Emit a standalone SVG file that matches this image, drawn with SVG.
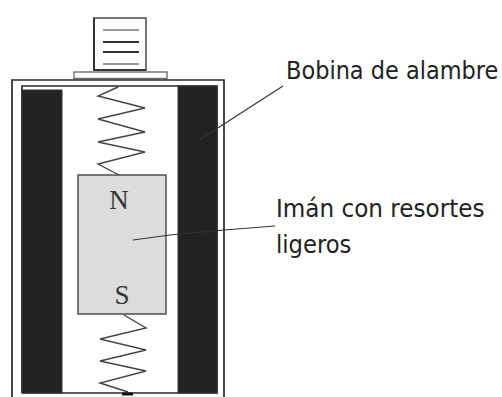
<svg xmlns="http://www.w3.org/2000/svg" width="502" height="397" viewBox="0 0 502 397">
<style>
.o{fill:none;stroke:#2a2a2a;stroke-width:1.7}
.c{fill:#222;stroke:#333;stroke-width:1}
.s{fill:none;stroke:#444;stroke-width:1.4}
.l{fill:none;stroke:#333;stroke-width:1.2}
.t{font-family:"DejaVu Sans",sans-serif;font-size:24px;fill:#222}
.p{font-family:"Liberation Serif",serif;font-size:27px;fill:#333;text-anchor:middle}
</style>
<rect width="502" height="397" fill="#fff"/>
<g id="cap">
<rect x="94" y="18" width="52" height="52" fill="#fff" stroke="#555" stroke-width="1.6"/>
<path d="M94 18V70H146" fill="none" stroke="#222" stroke-width="1.6"/>
<path d="M103 30H139M103 64H139" fill="none" stroke="#999" stroke-width="1.8"/>
<path d="M103 42H139M103 52H139" fill="none" stroke="#333" stroke-width="1.8"/>
<rect x="74" y="72" width="93" height="6.500" fill="#fff" stroke="#666" stroke-width="1.300"/>
</g>
<g id="housing">
<path class="o" d="M12 397V80H224V397"/>
<path class="o" d="M22 393V86H217V393H22"/>
</g>
<g id="coil">
<rect class="c" x="22" y="90" width="40" height="303"/>
<rect class="c" x="178" y="86" width="39" height="307"/>
</g>
<g id="magnet">
<rect x="78" y="175" width="88" height="139" fill="#dcdcdc" stroke="#444" stroke-width="1.400"/>
<text class="p" x="119" y="209">N</text>
<text class="p" x="122" y="304">S</text>
</g>
<g id="connectors">
<path class="s" d="M118 87L98 96L145 108L98 119L145 132L98 142L145 152L98 164L119 175"/>
<path class="s" d="M124 315L146 328L100 339L146 350L100 361L146 371L100 383L128 392"/>
<path d="M122 394H133" stroke="#111" stroke-width="3"/>
<path class="l" d="M199 140L224 124L283 86"/>
<path class="l" d="M133 240L170 235L224 230L275 226"/>
</g>
<g id="labels">
<text class="t" transform="translate(286 79) scale(.936 1)">Bobina de alambre</text>
<text class="t" transform="translate(276 217) scale(.963 1)">Imán con resortes</text>
<text class="t" transform="translate(276 253) scale(.945 1)">ligeros</text>
</g>
</svg>
